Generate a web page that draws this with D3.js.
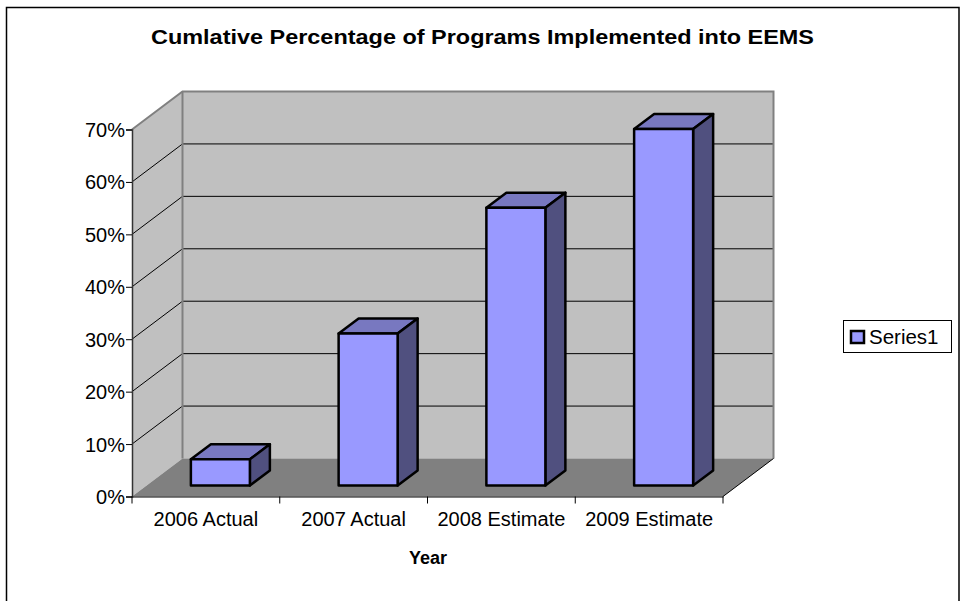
<!DOCTYPE html>
<html><head><meta charset="utf-8">
<script src="https://d3js.org/d3.v7.min.js"></script>
<style>html,body{margin:0;padding:0;background:#fff}svg{display:block}text{font-family:"Liberation Sans",Arial,sans-serif;fill:#000}</style>
</head><body><svg id="c" width="960" height="601"></svg>
<script>
const categories = ["2006 Actual","2007 Actual","2008 Estimate","2009 Estimate"];
const seriesValues = [0.05,0.29,0.53,0.68];
const tickValues = [0,0.1,0.2,0.3,0.4,0.5,0.6,0.7];
const seriesName = "Series1";
const titleText = "Cumlative Percentage of Programs Implemented into EEMS";
const xTitleText = "Year";

const svg = d3.select("#c");
const x = d3.scaleBand().domain(categories).range([132,723]);
const y = d3.scaleLinear().domain([0,0.7]).range([496.5,129.5]);
const wall = {dx:50.5,dy:-38};
const barFront = {dx:14.5,dy:-11};
const barDepth = {dx:20,dy:-15};
const barW = 59;

// outer frame (left, top, right; the bottom edge is cut off)
svg.append("polyline").attr("points","6.5,602 6.5,7.5 959,7.5 959,602").attr("fill","#fff").attr("stroke","#000").attr("stroke-width",1.5);

const x0=x.range()[0], x1=x.range()[1];
const poly=p=>p.map(d=>d.join(",")).join(" ");
const y0=y(0), yT=y(0.7);
svg.append("polygon").attr("points",poly([[x0,y0],[x0,yT],[x0+wall.dx,yT+wall.dy],[x0+wall.dx,y0+wall.dy]])).attr("fill","#c0c0c0");
svg.append("polygon").attr("points",poly([[x0+wall.dx,yT+wall.dy],[x1+wall.dx,yT+wall.dy],[x1+wall.dx,y0+wall.dy],[x0+wall.dx,y0+wall.dy]])).attr("fill","#c0c0c0");
svg.append("polygon").attr("points",poly([[x0,y0],[x0+wall.dx,y0+wall.dy],[x1+wall.dx,y0+wall.dy],[x1,y0]])).attr("fill","#808080");
tickValues.slice(1,-1).forEach(t=>{
  svg.append("polyline").attr("points",poly([[x0,y(t)],[x0+wall.dx,y(t)+wall.dy],[x1+wall.dx,y(t)+wall.dy]])).attr("fill","none").attr("stroke","#000").attr("stroke-width",1);
});
svg.append("polyline").attr("points",poly([[x0,yT],[x0+wall.dx,yT+wall.dy],[x1+wall.dx,yT+wall.dy],[x1+wall.dx,y0+wall.dy]])).attr("fill","none").attr("stroke","#808080").attr("stroke-width",2);
svg.append("line").attr("x1",x0+wall.dx).attr("x2",x0+wall.dx).attr("y1",yT+wall.dy).attr("y2",y0+wall.dy).attr("stroke","#808080").attr("stroke-width",2);
svg.append("line").attr("x1",x1).attr("y1",y0).attr("x2",x1+wall.dx).attr("y2",y0+wall.dy).attr("stroke","#000").attr("stroke-width",1);

const yAxis = d3.axisLeft(y).tickValues(tickValues).tickFormat(d3.format(".0%")).tickSize(6).tickPadding(1);
const gy = svg.append("g").attr("transform",`translate(${x0},0)`).call(yAxis);
gy.selectAll("text").style("font-size","20px").attr("dy","0.35em");
gy.select(".domain").attr("stroke","#333").attr("stroke-width",1.5);
const xAxis = d3.axisBottom(x).tickSize(0).tickPadding(15);
const gx = svg.append("g").attr("transform",`translate(0,${y0})`).call(xAxis);
gx.selectAll("text").style("font-size","20px");
gx.select(".domain").attr("stroke","#000");
[0,1,2,3,4].forEach(i=>{
  const px=x0+i*x.step();
  gx.append("line").attr("x1",px).attr("x2",px).attr("y1",0).attr("y2",7).attr("stroke","#000");
});

const bars = svg.append("g").selectAll("g").data(categories).join("g");
bars.each(function(c,i){
  const g=d3.select(this);
  const xl=x(c)+(x.bandwidth()-barW)/2+barFront.dx, xr=xl+barW;
  const yb=y(0)+barFront.dy, yt=y(seriesValues[i])+barFront.dy;
  const d=barDepth;
  const add=(pts,f)=>g.append("polygon").attr("points",poly(pts)).attr("fill",f).attr("stroke","#000").attr("stroke-width",2.5).attr("stroke-linejoin","round");
  add([[xl,yt],[xl+d.dx,yt+d.dy],[xr+d.dx,yt+d.dy],[xr,yt]],"#7878c0");
  add([[xr,yt],[xr+d.dx,yt+d.dy],[xr+d.dx,yb+d.dy],[xr,yb]],"#50507f");
  add([[xl,yt],[xr,yt],[xr,yb],[xl,yb]],"#9999ff");
});

svg.append("text").attr("x",482.5).attr("y",44).attr("text-anchor","middle").style("font-size","20px").style("font-weight","bold").attr("textLength",663).attr("lengthAdjust","spacingAndGlyphs").text(titleText);
svg.append("text").attr("x",428).attr("y",564).attr("text-anchor","middle").style("font-size","18px").style("font-weight","bold").text(xTitleText);

const lg=svg.append("g");
lg.append("rect").attr("x",843.5).attr("y",320.5).attr("width",108).attr("height",32).attr("fill","#fff").attr("stroke","#000");
lg.append("rect").attr("x",851).attr("y",331).attr("width",13).attr("height",12).attr("fill","#9999ff").attr("stroke","#000").attr("stroke-width",2.5);
lg.append("text").attr("x",869).attr("y",344).style("font-size","20.5px").text(seriesName);
</script></body></html>
